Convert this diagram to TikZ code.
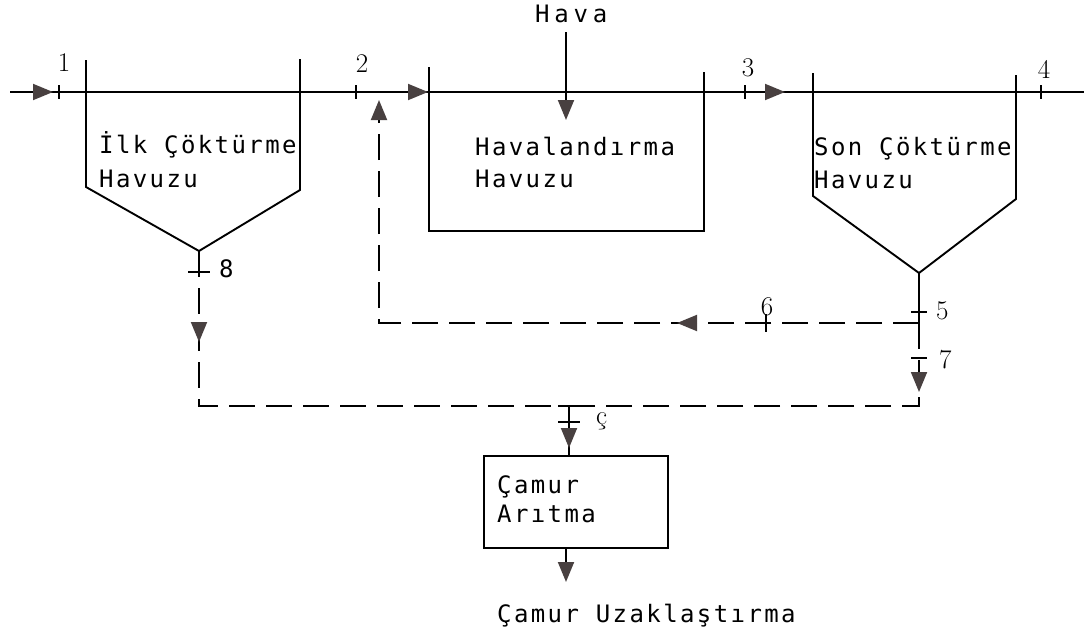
\documentclass[tikz,border=0pt]{standalone}
\usepackage{fontspec}
\newfontfamily\tw[LetterSpace=10]{DejaVu Sans Mono}
\newfontfamily\twwide[LetterSpace=20]{DejaVu Sans Mono}
\usetikzlibrary{arrows.meta,decorations.markings}
\definecolor{arr}{RGB}{72,64,64}
\tikzset{
  tri/.tip={Triangle[length=20pt,width=16pt,color=arr]},
  ln/.style={line width=1.9pt, black},
  dsh/.style={ln, dash pattern=on 26pt off 11pt},
  lbl/.style={font=\tw\fontsize{24}{24}\selectfont, inner sep=0pt, anchor=base west},
  num/.style={font=\fontsize{27}{27}\selectfont, inner sep=0pt, anchor=base},
  midarr/.style={postaction={decorate}, decoration={markings, mark=at position #1 with {\arrow{tri}}}},
  boxst/.style={draw, ln, minimum width=184pt, minimum height=92pt, inner sep=0pt},
}
\begin{document}
\begin{tikzpicture}[x=1pt,y=-1pt]
\useasboundingbox (0,0) rectangle (1086,637);
% texts
\node[lbl] (t1a) at (99,153) {İlk Çöktürme};
\node[lbl] (t1b) at (99,187) {Havuzu};
\node[lbl] (t2a) at (475,155) {Havalandırma};
\node[lbl] (t2b) at (475,187) {Havuzu};
\node[lbl] (t3a) at (814,155) {Son Çöktürme};
\node[lbl] (t3b) at (814,188) {Havuzu};
\node[lbl, font=\twwide\fontsize{24}{24}\selectfont] (hava) at (535,23) {Hava};
\node[lbl] (c1) at (497,493) {Çamur};
\node[lbl] (c2) at (497,522) {Arıtma};
\node[lbl] (cu) at (497,622) {Çamur Uzaklaştırma};
% numbers
\node[num] (n1) at (64,71) {1};
\node[num] (n2) at (362,72) {2};
\node[num] (n3) at (748,76) {3};
\node[num] (n4) at (1044,78) {4};
\node[num] (n6) at (767,315) {6};
\node[num, anchor=base west] (n5) at (936,319) {5};
\node[num, anchor=base west] (n7) at (939,368) {7};
\node[lbl] (n8) at (219,277) {8};
\node[num, anchor=base west] (nc) at (596,424) {ç};
% coordinates
\coordinate (in) at (10,92);
\coordinate (out) at (1084,92);
\coordinate (a1) at (199,251);
\coordinate (a3) at (919,273);
\coordinate (j5) at (919,323);
\coordinate (rc) at (379,323);
\coordinate (ru) at (379,100);
\coordinate (bl) at (199,406);
\coordinate (br) at (919,406);
\coordinate (jc) at (569,406);
\coordinate (jd) at (569,422);
\coordinate (hv) at (566,32);
\coordinate (hve) at (566,120);
% tanks
\draw[ln] (86,60) -- (86,187) -- (a1) -- (300,190) -- (300,59);
\draw[ln] (429,67) -- (429,231) -- (704,231) -- (704,72);
\draw[ln] (813,73) -- (813,196) -- (a3) -- (1016,199) -- (1016,75);
\node[boxst] (ca) at (576,502) {};
% main line
\draw[ln, postaction={decorate}, decoration={markings,
   mark=at position 43pt with {\arrow{tri}},
   mark=at position 418pt with {\arrow{tri}},
   mark=at position 775pt with {\arrow{tri}}}] (in) -- (out);
\foreach \x in {59,356,745,1041} \draw[ln] (\x,85) -- (\x,99);
% air
\draw[ln,-tri] (hv) -- (hve);
% sludge lines
\draw[ln] (a3) -- (j5);
\draw[ln] (911,312) -- (927,312);
\draw[dsh, midarr=242pt, -tri] (j5) -- (rc) -- (ru);
\draw[ln] (766,314) -- (766,332);
\draw[dsh, midarr=69pt] (j5) -- (br) -- (jc);
\draw[ln] (911,358) -- (927,358);
\draw[dsh, midarr=91pt] (a1) -- (bl) -- (jc);
\draw[ln] (188,272) -- (210,272);
\draw[ln] (jc) -- (jd);
\draw[ln] (558,406) -- (580,406);
\draw[ln] (558,422) -- (580,422);
\draw[ln, midarr=26pt] (jd) -- (569,456);
\draw[ln,-tri] (566,548) -- (566,582);
\end{tikzpicture}
\end{document}
